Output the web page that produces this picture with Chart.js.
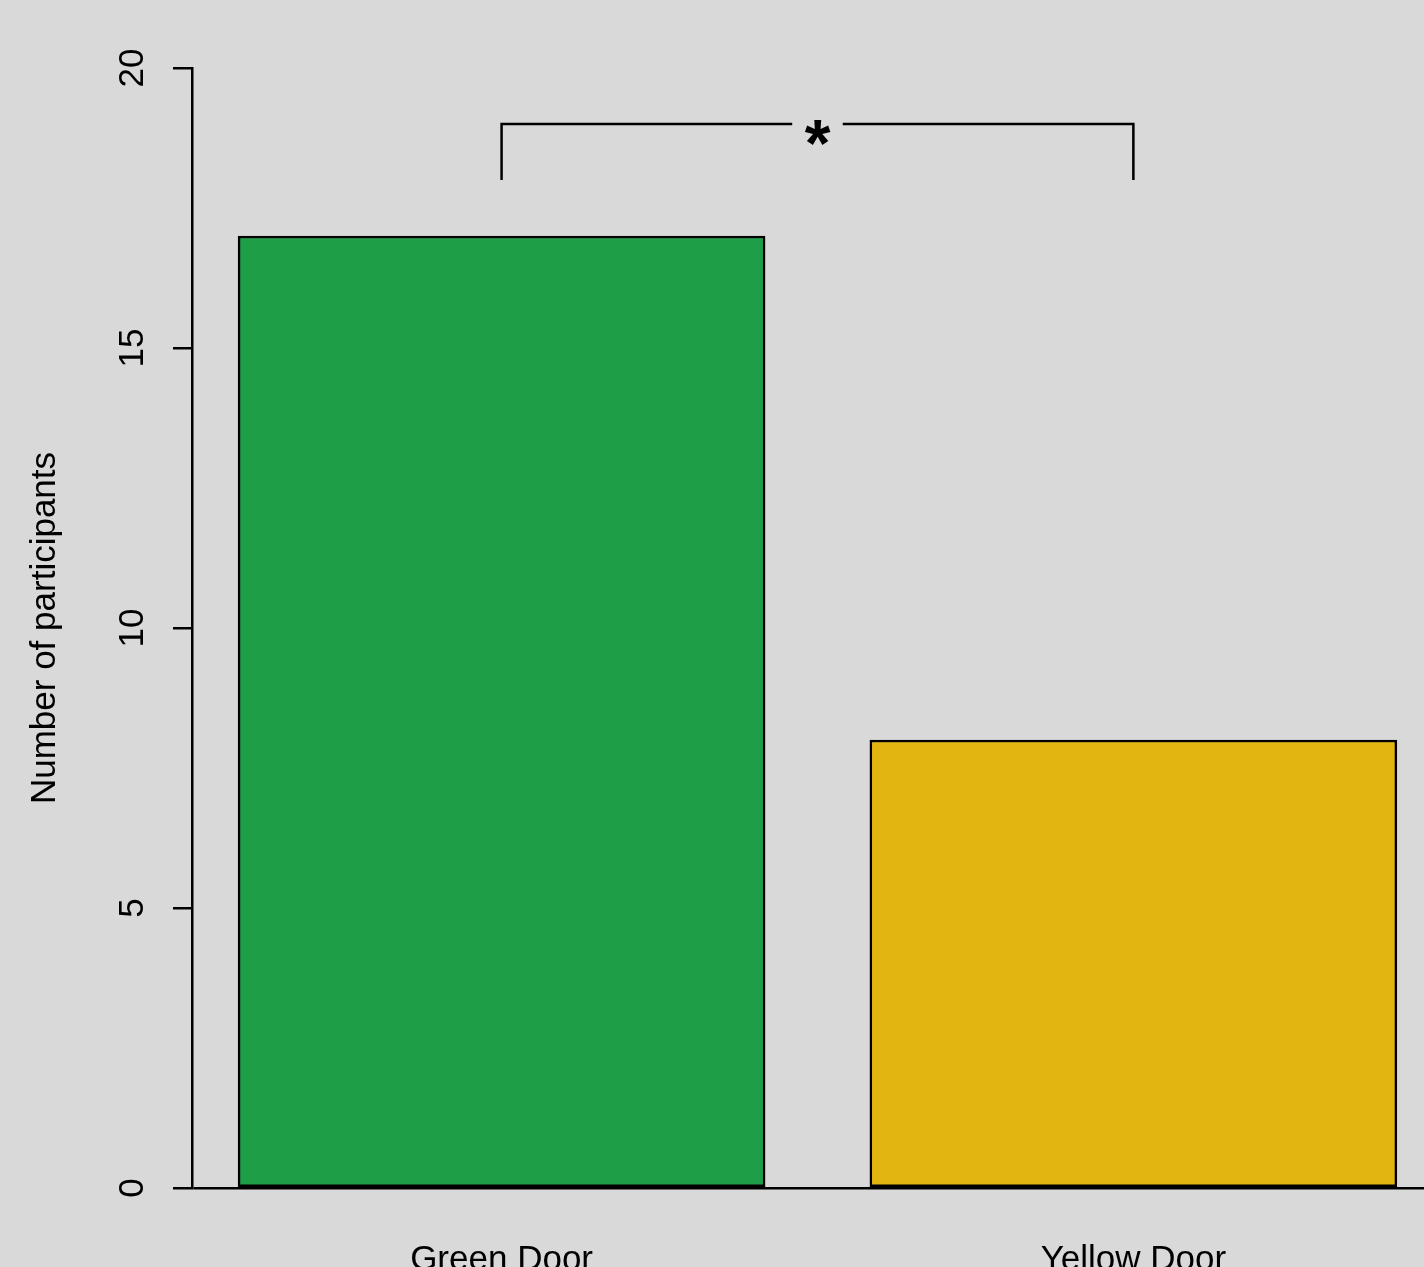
<!DOCTYPE html>
<html>
<head>
<meta charset="utf-8">
<title>Door choice</title>
<script src="https://cdn.jsdelivr.net/npm/chart.js@4"></script>
<style>
  html, body { margin: 0; padding: 0; background: #d9d9d9; overflow: hidden; }
  #wrap { width: 1424px; height: 1267px; position: relative; }
</style>
</head>
<body>
<div id="wrap"><canvas id="doorChart"></canvas></div>
<script>
// Data
const categories = ['Green Door', 'Yellow Door'];
const participants = [17, 8];
const barColors = ['#1f9e48', '#e2b510'];
const yTicks = [0, 5, 10, 15, 20];

// significance bracket between the two bars
const bracketLeftX  = [1, 1, 1.46];
const bracketLeftY  = [18, 19, 19];
const bracketRightX = [1.54, 2, 2];
const bracketRightY = [19, 19, 18];
const starX = 1.5;
const starY = 19;

const FONT = 'Liberation Sans, Arial, sans-serif';

// R-style rotated y tick labels + star
const extras = {
  id: 'extras',
  afterDraw(chart) {
    const { ctx, scales } = chart;
    const y = scales.y, x = scales.x;
    ctx.save();
    ctx.fillStyle = '#000';
    ctx.font = '35px ' + FONT;
    ctx.textAlign = 'center';
    ctx.textBaseline = 'alphabetic';
    yTicks.forEach(v => {
      ctx.save();
      ctx.translate(143, y.getPixelForValue(v));
      ctx.rotate(-Math.PI / 2);
      ctx.fillText(String(v), 0, 0);
      ctx.restore();
    });
    ctx.font = 'bold 66px ' + FONT;
    ctx.fillText('*', x.getPixelForValue(starX), y.getPixelForValue(starY) + 42);
    ctx.restore();
  }
};

const lineStyle = {
  type: 'line',
  borderColor: '#000',
  borderWidth: 2.5,
  pointRadius: 0,
  tension: 0,
  fill: false
};

new Chart(document.getElementById('doorChart'), {
  type: 'bar',
  data: {
    datasets: [
      {
        data: participants.map((v, i) => ({ x: i + 1, y: v })),
        backgroundColor: barColors,
        borderColor: '#000',
        borderWidth: 2.5,
        borderSkipped: false,
        barThickness: 527
      },
      Object.assign({ data: bracketLeftX.map((v, i) => ({ x: v, y: bracketLeftY[i] })) }, lineStyle),
      Object.assign({ data: bracketRightX.map((v, i) => ({ x: v, y: bracketRightY[i] })) }, lineStyle)
    ]
  },
  options: {
    responsive: true,
    maintainAspectRatio: false,
    animation: false,
    layout: { padding: { top: 68, right: 0, bottom: 0, left: 0 } },
    plugins: { legend: { display: false }, tooltip: { enabled: false } },
    scales: {
      x: {
        type: 'linear',
        min: 0.51,
        max: 2.46,
        offset: false,
        afterBuildTicks: s => { s.ticks = categories.map((_, i) => ({ value: i + 1 })); },
        afterFit: s => { s.height = 79; },
        ticks: {
          callback: v => categories[v - 1],
          color: '#000',
          font: { family: FONT, size: 35 },
          padding: 43,
          maxRotation: 0,
          autoSkip: false
        },
        grid: { display: false, offset: false },
        border: { display: false }
      },
      y: {
        min: 0,
        max: 20,
        afterBuildTicks: s => { s.ticks = yTicks.map(v => ({ value: v })); },
        afterFit: s => { s.width = 192; },
        ticks: { display: false },
        grid: {
          color: c => (c.tick && c.tick.value === 0 ? '#000' : 'rgba(0,0,0,0)'),
          lineWidth: 2.5,
          drawTicks: true,
          tickLength: 19,
          tickColor: '#000',
          tickWidth: 2.5
        },
        border: { display: true, color: '#000', width: 2.5 },
        title: {
          display: true,
          text: 'Number of participants',
          color: '#000',
          font: { family: FONT, size: 35 },
          padding: { top: 24, bottom: 0 }
        }
      }
    }
  },
  plugins: [extras]
});
</script>
</body>
</html>
